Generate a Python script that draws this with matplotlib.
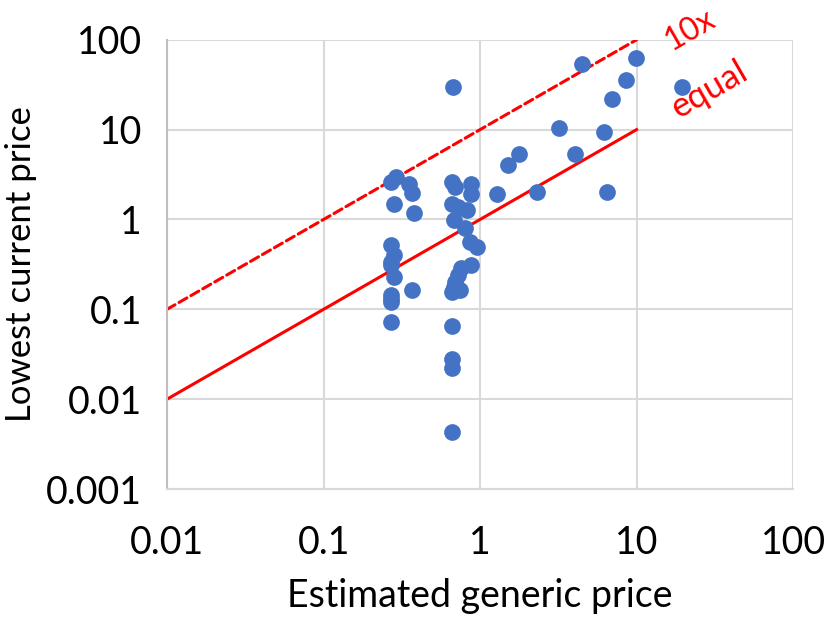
import matplotlib

matplotlib.use("Agg")
import matplotlib.pyplot as plt

# estimated generic price vs lowest current price
generic = [0.27, 0.29, 0.35, 0.37, 0.28, 0.38,
           0.27, 0.28, 0.27, 0.27, 0.28, 0.37, 0.27, 0.27, 0.27, 0.27,
           0.67, 0.66, 0.69, 0.88, 0.88, 0.66, 0.72, 0.83, 0.68, 0.80, 0.86, 0.95,
           0.88, 0.75, 0.72, 0.69, 0.68, 0.66, 0.74, 0.66, 0.66, 0.66, 0.66,
           1.28, 1.51, 1.77, 2.31, 3.2, 4.05, 4.5, 6.2, 6.5, 7.0, 8.6, 9.9, 19.5]
lowest = [2.6, 3.0, 2.5, 1.95, 1.47, 1.17,
          0.52, 0.40, 0.34, 0.31, 0.23, 0.165, 0.145, 0.13, 0.12, 0.072,
          30.0, 2.64, 2.27, 2.51, 1.94, 1.5, 1.36, 1.26, 0.975, 0.81, 0.555, 0.49,
          0.31, 0.285, 0.24, 0.2, 0.175, 0.155, 0.165, 0.065, 0.028, 0.022, 0.0043,
          1.94, 4.0, 5.3, 2.0, 10.3, 5.3, 54.0, 9.5, 2.0, 22.0, 36.0, 63.0, 30.0]

ref_x = [0.01, 10]
equal_y = [0.01, 10]
tenx_y = [0.1, 100]

xticks = [0.01, 0.1, 1, 10, 100]
yticks = [0.001, 0.01, 0.1, 1, 10, 100]
xlabels = ["0.01", "0.1", "1", "10", "100"]
ylabels = ["0.001", "0.01", "0.1", "1", "10", "100"]

plt.rcParams["font.family"] = ["Lato", "DejaVu Sans"]

fig = plt.figure(figsize=(8.27, 6.31), dpi=100)
ax = fig.add_axes([0.202, 0.225, 0.757, 0.712])

ax.plot(ref_x, tenx_y, color="#FF0000", lw=2.2, ls=(0, (3, 1.5)),
        dash_capstyle="round", zorder=2)
ax.plot(ref_x, equal_y, color="#FF0000", lw=2.2, zorder=2)
ax.scatter(generic, lowest, s=145, color="#4472C4", zorder=3, linewidths=0)

ax.set_xscale("log")
ax.set_yscale("log")
ax.set_xlim(0.01, 100)
ax.set_ylim(0.001, 100)
ax.set_xticks(xticks)
ax.set_xticklabels(xlabels)
ax.set_yticks(yticks)
ax.set_yticklabels(ylabels)
ax.minorticks_off()
ax.tick_params(length=0, labelsize=27)
ax.tick_params(axis="x", pad=26)
ax.tick_params(axis="y", pad=18)
ax.grid(True, color="#D9D9D9", lw=1.5)
ax.set_axisbelow(True)
for side in ["top", "right"]:
    ax.spines[side].set_visible(False)
ax.spines["left"].set_color("#BFBFBF")
ax.spines["left"].set_linewidth(1.5)
ax.spines["bottom"].set_color("#D9D9D9")
ax.spines["bottom"].set_linewidth(1.5)

ax.set_xlabel("Estimated generic price", fontsize=27, labelpad=12)
ax.set_ylabel("Lowest current price", fontsize=25)
ax.yaxis.set_label_coords(-0.207, 0.5)

ax.text(22, 128, "10x", color="#FF0000", fontsize=23, rotation=30,
        ha="center", va="center", clip_on=False)
ax.text(29, 28, "equal", color="#FF0000", fontsize=25, rotation=30,
        ha="center", va="center")

fig.savefig("out.png", dpi=100)
